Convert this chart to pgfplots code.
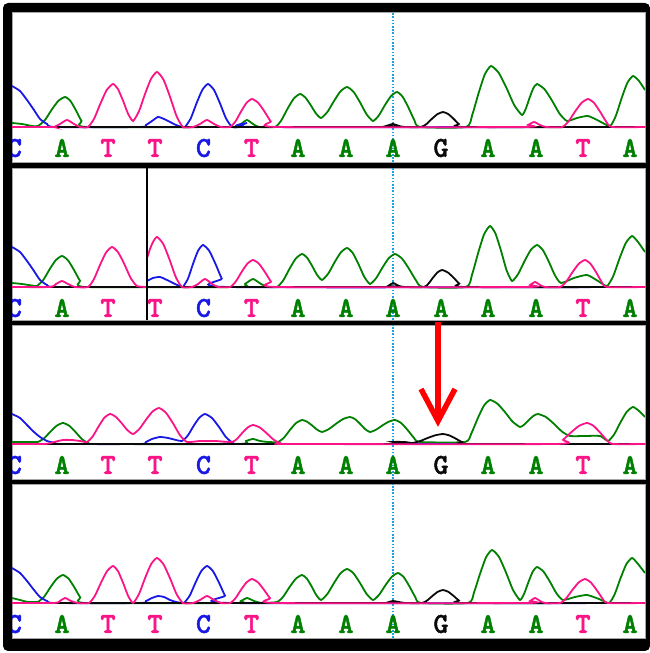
\documentclass[border=0pt]{standalone}
\usepackage{pgfplots}
\pgfplotsset{compat=1.18}
\usepackage{fontspec}
\newfontfamily\seqfont{lmmonolt10-bold.otf}[FakeBold=1.6]
\definecolor{cA}{RGB}{0,128,0}
\definecolor{cT}{RGB}{250,20,135}
\definecolor{cC}{RGB}{25,25,230}
\definecolor{cG}{RGB}{10,10,10}
\definecolor{dotc}{RGB}{30,160,230}
\pgfplotsset{
  panel/.style={scale only axis, width=633bp, xmin=12, xmax=645,
    axis lines=none, xtick=\empty, ytick=\empty, clip=true, anchor=south west},
  tr/.style={smooth, tension=0.35, line width=1.8bp, no markers},
}
\newcommand{\lett}[3]{\node[font=\seqfont\fontsize{29}{29}\selectfont, text=#3] at (axis cs:#1,-21) {#2};}
\newcommand{\seqstart}{\lett{14.5}{C}{cC}\lett{62}{A}{cA}\lett{108}{T}{cT}\lett{155}{T}{cT}\lett{203.5}{C}{cC}\lett{251.5}{T}{cT}\lett{298}{A}{cA}\lett{346}{A}{cA}\lett{393}{A}{cA}}
\newcommand{\seqend}{\lett{488}{A}{cA}\lett{536}{A}{cA}\lett{583}{T}{cT}\lett{630}{A}{cA}}
\begin{document}
\begin{tikzpicture}[x=1bp,y=1bp]
\useasboundingbox (0,0) rectangle (650,653);
\fill[white] (0,0) rectangle (650,653);
\fill[black, rounded corners=5bp] (3,2) rectangle (650,650);
\foreach \a/\b in {491/641,333/485,174/328,15/169}{
  \fill[white] (12,\a) rectangle (645,\b);
  \draw[gray!70, line width=0.8bp] (12,\a) rectangle (645,\b);
  \draw[dotc, line width=1.6bp, dash pattern=on 1.6bp off 1.6bp] (393,\a) -- (393,\b);
}
% ---------------- Panel 1 ----------------
\begin{axis}[panel, at={(12,491)}, height=150bp, ymin=-35, ymax=115]
\addplot[tr, cA] coordinates {(12,4) (22,3) (32,1) (38,1) (45,7) (51.5,17) (58.25,26) (65,30) (70.5,26) (76,16.5) (81.5,6) (87,0) (233,0) (235,0) (241,3) (247,7) (253,3) (259,0) (275,0) (281.25,6.6) (287.5,18.2) (293.75,28.4) (300,33) (305.25,29.6) (310.5,22.2) (315.75,13.8) (321,9) (327.5,15.2) (334,26) (340.5,35.7) (347,40) (353.5,35.2) (360,24.7) (366.5,12.8) (373,6) (379,11.8) (385,22) (391,30.9) (397,35) (402.75,30.1) (408.5,19.3) (414.25,7) (420,0) (466,0) (472.25,12.2) (478.5,33.6) (484.75,52.5) (491,61) (498.75,54.1) (506.5,39) (514.25,21.8) (522,12) (525.75,18.2) (529.5,29) (533.25,38.7) (537,43) (544.5,37.8) (552,26.4) (559.5,13.4) (567,6) (577,9) (588,11) (599,6) (610,1) (615.75,11) (621.5,28.5) (627.25,44) (633,51) (639,46) (645,37)};
\addplot[tr, cC] coordinates {(12,41) (20,36) (27,27) (34,17) (40,8) (47,3) (55,0) (140,0) (146,2) (152,6) (158,10) (164,8) (170,5) (176,2) (182,0) (185,0) (190.75,8.6) (196.5,23.65) (202.25,37) (208,43) (214,37) (220,23.65) (226,8.6) (232,0) (238,0) (247,4) (256,0) (645,0)};
\addplot[tr, cG] coordinates {(12,0) (380,0) (386,1) (393,3) (399,1) (405,0) (421,0) (426.5,3) (432,8.25) (437.5,12.9) (443,15) (448.25,12.9) (453.5,8.25) (458.75,3) (464,0) (645,0)};
\addplot[tr, cT] coordinates {(12,0) (52,0) (54,0) (60,3) (67,7) (74,3) (80,0) (88,0) (94.25,8.6) (100.5,23.65) (106.75,37) (113,43) (118,37.8) (123,26.35) (128,13.4) (133,6) (139,15.8) (145,33) (151,48.1) (157,55) (163.5,47.3) (170,30.25) (176.5,11) (183,0) (193,0) (200,3) (207,7) (214,3) (221,0) (230,0) (235.5,5.6) (241,15.4) (246.5,24.1) (252,28) (258.25,24.1) (264.5,15.4) (270.75,5.6) (277,0) (522,0) (528,2) (534,5) (540,2) (546,0) (562,0) (568.5,5.6) (575,15.4) (581.5,24.1) (588,28) (594,24.1) (600,15.4) (606,5.6) (612,0) (645,0)};
\seqstart\lett{441}{G}{cG}\seqend
\end{axis}
% ---------------- Panel 2 ----------------
\begin{axis}[panel, at={(12,333)}, height=152bp, ymin=-33, ymax=119]
\addplot[tr, cA] coordinates {(12,4) (22,3) (35,1) (37,1) (43.25,7) (49.5,17.5) (55.75,26.8) (62,31) (68,26.7) (74,17) (80,6.2) (86,0) (238,0) (245,3) (253,8) (261,3) (268,0) (277,0) (283.25,6.6) (289.5,18.2) (295.75,28.4) (302,33) (307,29.4) (312,21.3) (317,12.2) (322,7) (328.25,13.4) (334.5,24.6) (340.75,34.5) (347,39) (352.75,34) (358.5,22.8) (364.25,10.2) (370,3) (376.25,9) (382.5,19.5) (388.75,28.8) (395,33) (402,28.4) (409,18.2) (416,6.6) (423,0) (466,0) (472,12.2) (478,33.6) (484,52.5) (490,61) (495.5,53.3) (501,36.25) (506.5,17) (512,6) (518.25,13.2) (524.5,25.8) (530.75,37) (537,42) (543,36.7) (549,24.9) (555,11.6) (561,4) (574,9) (587,12) (598,6) (607,1) (613.25,11) (619.5,28.5) (625.75,44) (632,51) (638,45) (645,35)};
\addplot[tr, cC] coordinates {(12,40) (20,35) (27,26) (34,16) (40,7) (47,2) (55,0) (146,0)};
\addplot[tr, cC] coordinates {(147,6) (153,9) (160,10) (167,7) (175,3) (182,0) (183,0) (188,8.4) (193,23.1) (198,36.1) (203,42) (209.25,36.1) (215.5,23.1) (221.75,8.4) (228,0) (645,0)};
\addplot[tr, cG] coordinates {(12,0) (383,0) (388,1) (393,4) (399,1) (405,0) (424,0) (428.5,3.4) (433,9.35) (437.5,14.6) (442,17) (447.75,14.6) (453.5,9.35) (459.25,3.4) (465,0) (645,0)};
\addplot[tr, cT] coordinates {(12,0) (50,0) (56,3) (62,6) (68,3) (75,0) (88,0) (94,8) (100,22) (106,34.4) (112,40) (118.25,34.5) (124.5,22.5) (130.75,8.8) (137,1) (146,0)};
\addplot[tr, cT] coordinates {(147.5,30) (150,38) (153,45) (157,50) (163.25,43) (169.5,27.5) (175.75,10) (182,0) (192,0) (198,3) (205,8) (212,3) (218,0) (230,0) (235.75,5.4) (241.5,14.85) (247.25,23.2) (253,27) (259,23.2) (265,14.85) (271,5.4) (277,0) (525,0) (530,2) (535,5) (540,2) (545,0) (560,0) (566.25,5.4) (572.5,14.85) (578.75,23.2) (585,27) (590.5,23.2) (596,14.85) (601.5,5.4) (607,0) (645,0)};
\draw[black, line width=1.5bp] (axis cs:147,-33) -- (axis cs:147,119);
\seqstart\lett{441}{A}{cA}\seqend
\end{axis}
% ---------------- Panel 3 ----------------
\begin{axis}[panel, at={(12,174)}, height=154bp, ymin=-35, ymax=119]
\addplot[tr, cA] coordinates {(12,2) (35,2) (38,2) (44.25,5.8) (50.5,12.45) (56.75,18.3) (63,21) (69.25,18.2) (75.5,12) (81.75,5) (88,1) (95,0) (238,0) (246,3) (253,5) (260,3) (268,2) (278,2) (284,6.4) (290,14.1) (296,20.9) (302,24) (307,22.3) (312,18.6) (317,14.4) (322,12) (329,15) (336,20.25) (343,24.9) (350,27) (355,24.9) (360,20.25) (365,15) (370,12) (376.25,14.4) (382.5,18.6) (388.75,22.3) (395,24) (401.25,20.9) (407.5,14.1) (413.75,6.4) (420,2) (465,2) (471.25,10.4) (477.5,25.1) (483.75,38.1) (490,44) (497.5,40.2) (505,31.85) (512.5,22.4) (520,17) (524.5,19.6) (529,24.15) (533.5,28.2) (538,30) (546,26.9) (554,20.1) (562,12.4) (570,8) (585,8) (600,8) (608,3) (614.25,9.8) (620.5,21.7) (626.75,32.2) (633,37) (639,33) (645,27)};
\addplot[tr, cC] coordinates {(12,30) (20,26) (27,19) (34,12) (40,7) (47,3) (55,1) (62,0) (140,0) (146,2) (152,5) (160,7) (168,6) (176,4) (182,3) (187.75,8.4) (193.5,17.85) (199.25,26.2) (205,30) (212,26) (219,17) (226,6.8) (233,1) (240,0) (645,0)};
\addplot[tr, cG] coordinates {(12,0) (385,0) (393,2) (405,2) (412,1) (419.75,2.8) (427.5,5.95) (435.25,8.7) (443,10) (449.25,8.6) (455.5,5.5) (461.75,2) (468,0) (645,0)};
\addplot[tr, cT] coordinates {(12,0) (45,0) (54,2) (63,4) (72,4) (80,3) (87,2) (92.75,7.6) (98.5,17.4) (104.25,26.1) (110,30) (115.75,27.2) (121.5,21) (127.25,14) (133,10) (139.5,15.2) (146,24.3) (152.5,32.4) (159,36) (166,31.2) (173,20.7) (180,8.8) (187,2) (200,3) (215,3) (232,2) (237.25,5.4) (242.5,11.35) (247.75,16.6) (253,19) (259.75,16.5) (266.5,10.9) (273.25,4.6) (280,1) (290,0) (555,0) (563,4.2) (571,11.55) (579,18.1) (587,21) (593.5,18.1) (600,11.55) (606.5,4.2) (613,0) (645,0)};
\seqstart\lett{441}{G}{cG}\seqend
\end{axis}
% ---------------- Panel 4 ----------------
\begin{axis}[panel, at={(12,15)}, height=154bp, ymin=-35, ymax=119]
\addplot[tr, cA] coordinates {(12,5) (20,3) (28,1) (36,1) (38,1) (44.25,6.4) (50.5,15.85) (56.75,24.2) (63,28) (68.75,24.1) (74.5,15.4) (80.25,5.6) (86,0) (235,0) (241,2) (247,5) (254,2) (262,0) (277,1) (283.25,6.4) (289.5,15.85) (295.75,24.2) (302,28) (306.75,24.5) (311.5,16.75) (316.25,8) (321,3) (327.5,9.2) (334,20) (340.5,29.7) (347,34) (353.5,29.7) (360,20) (366.5,9.2) (373,3) (379.25,8.4) (385.5,17.85) (391.75,26.2) (398,30) (403.75,25.8) (409.5,16.5) (415.25,6) (421,0) (468,0) (474,10.6) (480,29.15) (486,45.6) (492,53) (499,46) (506,30.5) (513,13) (520,3) (524.25,9.6) (528.5,21.15) (532.75,31.4) (537,36) (543.5,31.4) (550,21.15) (556.5,9.6) (563,3) (575,6) (587,8) (599,4) (609,0) (614.75,9) (620.5,24.75) (626.25,38.7) (632,45) (638,39) (645,30)};
\addplot[tr, cC] coordinates {(12,35) (20,30) (27,22) (34,13) (40,6) (47,2) (55,0) (140,0) (146,2) (152,5) (158,7) (164,6) (170,3) (176,1) (182,0) (184,0) (189.75,7.4) (195.5,20.35) (201.25,31.8) (207,37) (213,31.8) (219,20.35) (225,7.4) (231,0) (645,0)};
\addplot[tr, cG] coordinates {(12,0) (385,0) (389,1) (393,2) (399,1) (405,0) (422,0) (427.25,2.6) (432.5,7.15) (437.75,11.2) (443,13) (448.25,11.2) (453.5,7.15) (458.75,2.6) (464,0) (645,0)};
\addplot[tr, cT] coordinates {(12,0) (54,0) (60,2) (65,5) (71,2) (78,0) (89,0) (95,7.4) (101,20.35) (107,31.8) (113,37) (118,31.8) (123,20.35) (128,7.4) (133,0) (139,9) (145,24.75) (151,38.7) (157,45) (163.5,38.7) (170,24.75) (176.5,9) (183,0) (193,0) (200,3) (207,7) (214,3) (221,0) (230,0) (235.5,4.8) (241,13.2) (246.5,20.6) (252,24) (258,20.6) (264,13.2) (270,4.8) (276,0) (525,0) (530,2) (535,5) (540,2) (545,0) (560,0) (566.25,4.8) (572.5,13.2) (578.75,20.6) (585,24) (590.75,20.6) (596.5,13.2) (602.25,4.8) (608,0) (645,0)};
\seqstart\lett{441}{G}{cG}\seqend
\end{axis}
% ---------------- red arrow ----------------
\draw[red, line width=5.5bp] (438,331) -- (438,236);
\draw[red, line width=5.5bp, miter limit=4] (421,264) -- (438,232) -- (455,264);
\end{tikzpicture}
\end{document}
